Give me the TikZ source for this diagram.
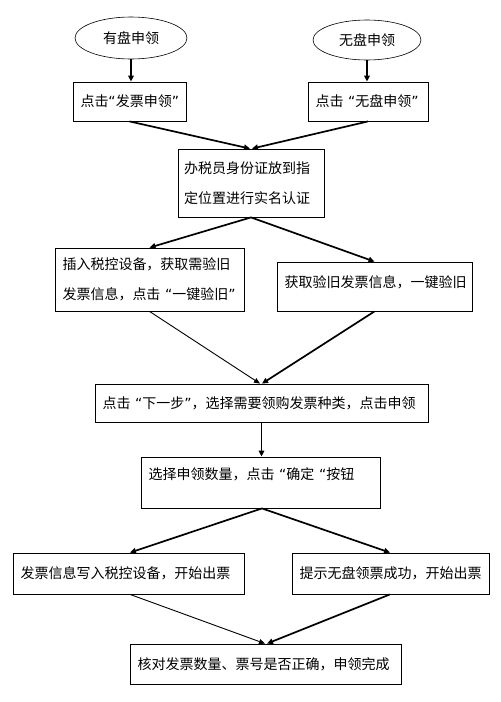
\documentclass[tikz,border=0pt]{standalone}
\usepackage{fontspec}
\setmainfont{Noto Sans CJK SC}
\newfontfamily\qfont{DejaVu Sans}
\newcommand{\oq}{{\qfont “}}
\newcommand{\cq}{{\qfont ”}}
\usetikzlibrary{shapes.geometric,arrows.meta}
\begin{document}
\begin{tikzpicture}[x=1pt,y=-1pt,
  every node/.style={font=\fontsize{14}{30.5}\selectfont},
  oval/.style={ellipse,draw,line width=0.6pt,inner sep=0pt,font=\fontsize{14}{16}\selectfont},
  box/.style={draw,line width=0.8pt,rectangle,inner xsep=7.5pt,inner ysep=0pt,align=left},
  arr/.style={line width=1.7pt,-{Triangle[length=6pt,width=5.5pt]}},
  thinarr/.style={line width=0.9pt,-{Triangle[length=6pt,width=5pt]}}]
\useasboundingbox[fill=white] (0,0) rectangle (501,702);
\node[oval,minimum width=112,minimum height=42] (e1) at (131,38) {有盘申领};
\node[oval,minimum width=108,minimum height=40] (e2) at (367,40) {无盘申领};
\node[box,minimum width=113,minimum height=39,text width=98] (b1) at (129.5,101.5) {点击\oq 发票申领\cq};
\node[box,minimum width=120,minimum height=39,text width=105] (b2) at (368,101.5) {点击~\oq 无盘申领\cq};
\node[box,minimum width=146,minimum height=68,inner xsep=6pt,text width=134] (b3) at (251,183) {办税员身份证放到指\\定位置进行实名认证};
\node[box,minimum width=189,minimum height=63,text width=174] (b4) at (149.5,279.5) {插入税控设备，获取需验旧\\发票信息，点击~\oq 一键验旧\cq};
\node[box,minimum width=195,minimum height=49,text width=180,text depth=9pt] (b5) at (374.5,286.5) {获取验旧发票信息，一键验旧};
\node[box,minimum width=333,minimum height=38,text width=318] (b6) at (261.5,403) {点击~\oq 下一步\cq，选择需要领购发票种类，点击申领};
\node[box,minimum width=239,minimum height=51,text width=224,text depth=17pt] (b7) at (260.5,482.5) {选择申领数量，点击~\oq 确定~\oq 按钮};
\node[box,minimum width=231,minimum height=41,text width=216] (b8) at (128.5,573.5) {发票信息写入税控设备，开始出票};
\node[box,minimum width=197,minimum height=41,text width=182] (b9) at (390.5,573.5) {提示无盘领票成功，开始出票};
\node[box,minimum width=271,minimum height=40,text width=256] (b10) at (265.5,664) {核对发票数量、票号是否正确，申领完成};
\draw[arr] (e1.south) -- (e1.south|-b1.north);
\draw[arr] (e2.south) -- (e2.south|-b2.north);
\draw[arr] (b1.south) -- ([xshift=-1pt]b3.north);
\draw[arr] (b2.south) -- ([xshift=1pt]b3.north);
\draw[arr] (b3.south) -- (b4.north);
\draw[arr] (b3.south) -- (b5.north);
\draw[thinarr] (b4.south) -- ([xshift=-1.5pt]b6.north);
\draw[arr] (b5.south) -- ([xshift=0.5pt]b6.north);
\draw[arr] (b6.south) -- (b6.south|-b7.north);
\draw[arr] ([xshift=1.5pt]b7.north|-b7.south) -- ([xshift=1.5pt]b8.north);
\draw[arr] ([xshift=1.5pt]b7.north|-b7.south) -- ([xshift=-0.5pt]b9.north);
\draw[thinarr] ([xshift=1.5pt]b8.south) -- ([xshift=-0.5pt]b10.north);
\draw[arr] ([xshift=-0.5pt]b9.south) -- ([xshift=1.5pt]b10.north);
\end{tikzpicture}
\end{document}
